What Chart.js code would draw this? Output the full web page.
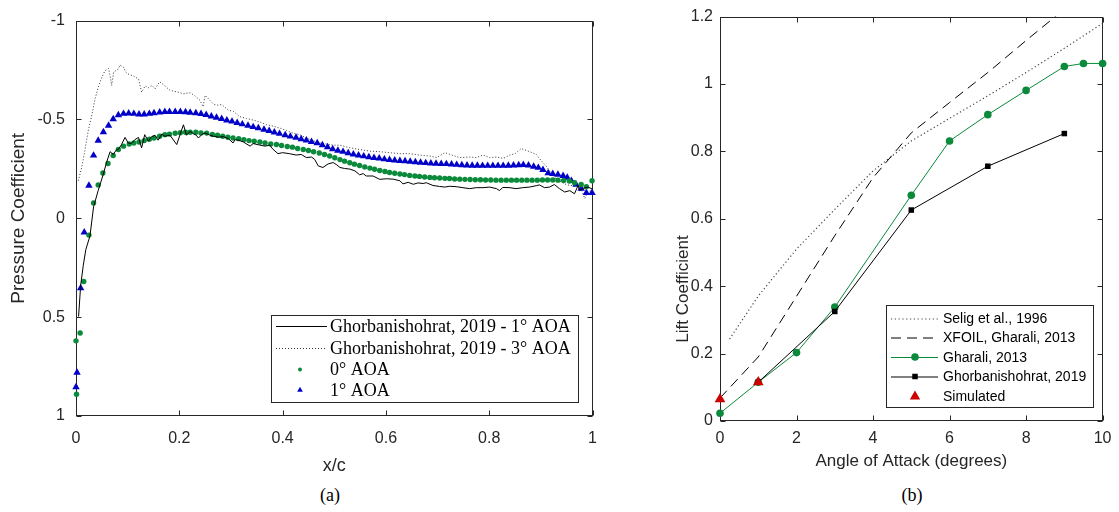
<!DOCTYPE html>
<html><head><meta charset="utf-8">
<script src="https://cdn.jsdelivr.net/npm/chart.js@4/dist/chart.umd.min.js"></script>
<style>
html,body{margin:0;padding:0;background:#fff;width:1119px;height:512px;overflow:hidden;position:relative}
#wa{position:absolute;left:0;top:0;width:610px;height:480px}
#wb{position:absolute;left:620px;top:0;width:499px;height:480px}
.cap{position:absolute;top:485px;width:100px;text-align:center;font-family:"Liberation Serif","Times New Roman",serif;font-size:18px;line-height:20px;color:#000}
</style></head>
<body>
<div id="wa"><canvas id="ca" width="610" height="480"></canvas></div>
<div id="wb"><canvas id="cb" width="499" height="480"></canvas></div>
<div class="cap" style="left:280px">(a)</div>
<div class="cap" style="left:862px">(b)</div>
<script>
// ---------- Panel (a): pressure coefficient ----------
const xTicksA = [0, 0.2, 0.4, 0.6, 0.8, 1];
const xTickLabelsA = ['0', '0.2', '0.4', '0.6', '0.8', '1'];
const yTicksA = [-1, -0.5, 0, 0.5, 1];
const yTickLabelsA = ['-1', '-0.5', '0', '0.5', '1'];

const labelsA = ['Ghorbanishohrat, 2019 - 1\u00b0 AOA', 'Ghorbanishohrat, 2019 - 3\u00b0 AOA', '0\u00b0 AOA', '1\u00b0 AOA'];

// Ghorbanishohrat 2019, 1 deg (solid)
const ref1X = [0.005,0.009,0.014,0.019,0.027,0.034,0.043,0.053,0.059,0.066,0.072,0.078,0.082,0.088,0.095,0.101,0.107,0.114,0.121,0.127,0.133,0.140,0.146,0.153,0.159,0.166,0.172,0.182,0.195,0.201,0.208,0.214,0.221,0.227,0.233,0.237,0.244,0.250,0.258,0.266,0.276,0.285,0.295,0.304,0.308,0.315,0.324,0.337,0.343,0.353,0.366,0.375,0.381,0.391,0.400,0.413,0.426,0.436,0.446,0.456,0.462,0.469,0.478,0.488,0.498,0.505,0.511,0.520,0.530,0.540,0.549,0.556,0.562,0.575,0.588,0.601,0.614,0.627,0.633,0.643,0.653,0.662,0.672,0.678,0.691,0.704,0.714,0.723,0.736,0.749,0.762,0.775,0.788,0.801,0.814,0.820,0.826,0.840,0.852,0.865,0.878,0.891,0.897,0.907,0.917,0.926,0.936,0.946,0.956,0.965,0.972,0.975,0.982,0.991,0.999];
const ref1Y = [0.497,0.340,0.240,0.158,0.090,-0.058,-0.141,-0.224,-0.282,-0.337,-0.323,-0.345,-0.348,-0.373,-0.409,-0.381,-0.378,-0.398,-0.409,-0.356,-0.423,-0.390,-0.412,-0.420,-0.395,-0.426,-0.415,-0.420,-0.373,-0.420,-0.473,-0.420,-0.440,-0.428,-0.420,-0.406,-0.425,-0.431,-0.422,-0.415,-0.410,-0.413,-0.403,-0.381,-0.398,-0.395,-0.386,-0.365,-0.378,-0.372,-0.365,-0.370,-0.350,-0.327,-0.332,-0.327,-0.320,-0.323,-0.307,-0.310,-0.298,-0.265,-0.257,-0.275,-0.282,-0.270,-0.257,-0.252,-0.249,-0.240,-0.220,-0.226,-0.214,-0.214,-0.197,-0.200,-0.198,-0.190,-0.174,-0.182,-0.172,-0.179,-0.176,-0.180,-0.166,-0.161,-0.158,-0.162,-0.160,-0.155,-0.150,-0.155,-0.155,-0.158,-0.150,-0.140,-0.156,-0.155,-0.150,-0.155,-0.158,-0.165,-0.169,-0.155,-0.158,-0.171,-0.150,-0.133,-0.140,-0.124,-0.166,-0.140,-0.152,-0.158,-0.149];

// Ghorbanishohrat 2019, 3 deg (dotted)
const ref3X = [0.0045,0.011,0.017,0.024,0.030,0.037,0.043,0.050,0.056,0.063,0.066,0.069,0.073,0.082,0.085,0.092,0.096,0.101,0.111,0.121,0.127,0.134,0.140,0.147,0.153,0.162,0.172,0.182,0.195,0.208,0.221,0.230,0.240,0.246,0.250,0.258,0.266,0.272,0.282,0.295,0.305,0.317,0.330,0.343,0.356,0.369,0.382,0.395,0.408,0.420,0.433,0.446,0.459,0.472,0.485,0.498,0.511,0.530,0.549,0.569,0.588,0.607,0.627,0.646,0.665,0.685,0.698,0.714,0.730,0.743,0.762,0.775,0.788,0.801,0.814,0.827,0.840,0.850,0.856,0.862,0.872,0.882,0.891,0.901,0.910,0.917,0.926,0.936,0.946,0.956,0.965,0.972,0.978,0.985,0.991,0.999];
const ref3Y = [-0.190,-0.257,-0.340,-0.448,-0.514,-0.605,-0.663,-0.713,-0.746,-0.758,-0.720,-0.672,-0.740,-0.755,-0.775,-0.765,-0.740,-0.730,-0.720,-0.705,-0.638,-0.670,-0.660,-0.672,-0.655,-0.691,-0.670,-0.647,-0.640,-0.630,-0.635,-0.620,-0.597,-0.564,-0.622,-0.600,-0.578,-0.572,-0.575,-0.547,-0.540,-0.514,-0.505,-0.497,-0.487,-0.473,-0.466,-0.456,-0.443,-0.431,-0.423,-0.406,-0.393,-0.381,-0.376,-0.370,-0.370,-0.357,-0.348,-0.340,-0.337,-0.332,-0.327,-0.327,-0.320,-0.315,-0.307,-0.332,-0.318,-0.307,-0.310,-0.307,-0.320,-0.307,-0.310,-0.303,-0.320,-0.327,-0.340,-0.353,-0.343,-0.333,-0.323,-0.290,-0.265,-0.240,-0.207,-0.190,-0.174,-0.166,-0.166,-0.174,-0.149,-0.100,-0.134,-0.141];

// Simulated 0 deg (green dots)
const sim0X = [0.000,0.001,0.008,0.015,0.025,0.034,0.043,0.052,0.062,0.072,0.082,0.092,0.103,0.112,0.122,0.132,0.142,0.151,0.162,0.172,0.181,0.192,0.202,0.212,0.221,0.232,0.242,0.253,0.264,0.274,0.284,0.294,0.304,0.315,0.325,0.335,0.345,0.356,0.366,0.377,0.388,0.398,0.409,0.419,0.429,0.440,0.450,0.460,0.471,0.481,0.491,0.501,0.511,0.520,0.530,0.539,0.549,0.559,0.569,0.578,0.588,0.598,0.607,0.617,0.627,0.636,0.646,0.656,0.665,0.675,0.685,0.694,0.704,0.714,0.723,0.733,0.743,0.753,0.763,0.773,0.783,0.793,0.803,0.813,0.823,0.833,0.843,0.853,0.863,0.873,0.883,0.893,0.903,0.913,0.923,0.933,0.944,0.955,0.965,0.978,0.988,0.999];
const sim0Y = [0.620,0.890,0.580,0.320,0.085,-0.078,-0.169,-0.229,-0.277,-0.318,-0.348,-0.365,-0.376,-0.381,-0.386,-0.393,-0.400,-0.406,-0.415,-0.423,-0.426,-0.430,-0.433,-0.435,-0.435,-0.435,-0.432,-0.431,-0.424,-0.420,-0.415,-0.410,-0.406,-0.403,-0.398,-0.393,-0.390,-0.386,-0.381,-0.376,-0.373,-0.368,-0.363,-0.360,-0.353,-0.348,-0.343,-0.337,-0.330,-0.323,-0.315,-0.306,-0.297,-0.289,-0.281,-0.274,-0.267,-0.260,-0.254,-0.248,-0.242,-0.237,-0.232,-0.228,-0.224,-0.221,-0.217,-0.214,-0.212,-0.209,-0.207,-0.205,-0.204,-0.202,-0.201,-0.199,-0.198,-0.197,-0.196,-0.195,-0.195,-0.194,-0.194,-0.193,-0.193,-0.193,-0.193,-0.193,-0.193,-0.193,-0.193,-0.193,-0.194,-0.194,-0.194,-0.193,-0.191,-0.189,-0.180,-0.171,-0.160,-0.190];

// Simulated 1 deg (blue triangles)
const sim1X = [0.000,0.002,0.009,0.016,0.025,0.034,0.043,0.053,0.063,0.072,0.082,0.092,0.102,0.112,0.122,0.132,0.142,0.151,0.162,0.172,0.181,0.192,0.202,0.212,0.221,0.232,0.242,0.252,0.262,0.272,0.282,0.292,0.302,0.312,0.322,0.333,0.343,0.353,0.364,0.374,0.384,0.394,0.405,0.415,0.426,0.436,0.446,0.456,0.467,0.477,0.487,0.497,0.507,0.517,0.527,0.537,0.547,0.557,0.567,0.577,0.587,0.597,0.607,0.617,0.627,0.637,0.647,0.657,0.667,0.677,0.687,0.697,0.707,0.717,0.727,0.737,0.747,0.757,0.767,0.777,0.787,0.797,0.807,0.817,0.827,0.837,0.847,0.857,0.866,0.876,0.886,0.895,0.904,0.914,0.923,0.933,0.943,0.951,0.959,0.968,0.978,0.988,0.999];
const sim1Y = [0.854,0.780,0.353,0.071,-0.166,-0.318,-0.393,-0.436,-0.469,-0.502,-0.522,-0.529,-0.531,-0.529,-0.526,-0.526,-0.529,-0.532,-0.536,-0.539,-0.539,-0.539,-0.539,-0.537,-0.535,-0.532,-0.528,-0.523,-0.516,-0.509,-0.503,-0.496,-0.490,-0.483,-0.476,-0.469,-0.462,-0.456,-0.449,-0.442,-0.435,-0.428,-0.421,-0.414,-0.408,-0.401,-0.394,-0.387,-0.380,-0.370,-0.360,-0.350,-0.343,-0.337,-0.330,-0.324,-0.319,-0.314,-0.310,-0.306,-0.303,-0.299,-0.296,-0.293,-0.291,-0.289,-0.287,-0.284,-0.282,-0.280,-0.278,-0.277,-0.276,-0.275,-0.273,-0.271,-0.269,-0.268,-0.267,-0.267,-0.266,-0.266,-0.266,-0.266,-0.266,-0.267,-0.268,-0.269,-0.270,-0.268,-0.262,-0.256,-0.245,-0.229,-0.225,-0.221,-0.215,-0.206,-0.190,-0.171,-0.150,-0.129,-0.129];

// ---------- Panel (b): lift coefficient ----------
const xTicksB = [0, 2, 4, 6, 8, 10];
const xTickLabelsB = ['0', '2', '4', '6', '8', '10'];
const yTicksB = [0, 0.2, 0.4, 0.6, 0.8, 1, 1.2];
const yTickLabelsB = ['0', '0.2', '0.4', '0.6', '0.8', '1', '1.2'];

const labelsB = ['Selig et al., 1996', 'XFOIL, Gharali, 2013', 'Gharali, 2013', 'Ghorbanishohrat, 2019', 'Simulated'];

const seligX = [0.25, 1, 2, 3, 4, 5, 6, 7, 8, 9, 10];
const seligY = [0.243, 0.371, 0.510, 0.628, 0.742, 0.831, 0.898, 0.965, 1.034, 1.106, 1.180];
const xfoilX = [0, 1, 2, 3, 4, 5, 6, 7, 8, 9];
const xfoilY = [0.068, 0.190, 0.370, 0.550, 0.722, 0.855, 0.945, 1.034, 1.129, 1.222];
const gharaliX = [0, 1, 2, 3, 5, 6, 7, 8, 9, 9.5, 10];
const gharaliY = [0.023, 0.115, 0.203, 0.338, 0.670, 0.831, 0.909, 0.981, 1.052, 1.061, 1.061];
const ghorbX = [1, 3, 5, 7, 9];
const ghorbY = [0.115, 0.325, 0.626, 0.756, 0.853];
const simX = [0, 1];
const simY = [0.065, 0.115];

// ---------- helpers ----------
const pts = (xs, ys) => xs.map((x, i) => ({x: x, y: ys[i]}));
const AXC = '#262626';
const GREEN = '#0a8a3a';
const BLUE = '#0000c8';
const RED = '#cc0000';
const SANS = '"Liberation Sans", Arial, Helvetica, sans-serif';
const SERIF = '"Liberation Serif", "Times New Roman", serif';
Chart.defaults.font.family = SANS;
Chart.defaults.color = AXC;

function fixTicks(vals) {
  return function(scale) { scale.ticks = vals.map(v => ({value: v})); };
}
function labelFrom(vals, labs) {
  return function(v) { const i = vals.findIndex(t => Math.abs(t - v) < 1e-9); return i >= 0 ? labs[i] : ''; };
}

function drawMarker(ctx, style, x, y, r, color) {
  ctx.save();
  ctx.fillStyle = color;
  ctx.beginPath();
  if (style === 'circle') {
    ctx.arc(x, y, r, 0, Math.PI * 2);
  } else if (style === 'triangle') {
    ctx.moveTo(x, y - r);
    ctx.lineTo(x + r * Math.sqrt(3) / 2, y + r / 2);
    ctx.lineTo(x - r * Math.sqrt(3) / 2, y + r / 2);
    ctx.closePath();
  } else if (style === 'rect') {
    const s = r * Math.SQRT1_2;
    ctx.rect(x - s, y - s, 2 * s, 2 * s);
  }
  ctx.fill();
  ctx.restore();
}

// MATLAB-like box with inward ticks
const boxPlugin = {
  id: 'boxPlugin',
  beforeDatasetsDraw(chart) {
    const {ctx, chartArea: a, scales} = chart;
    const xs = scales.x, ys = scales.y;
    const L = 5;
    ctx.save();
    ctx.strokeStyle = AXC;
    ctx.lineWidth = 1;
    const l = Math.round(a.left) + 0.5, r = Math.round(a.right) - 0.5, t = Math.round(a.top) + 0.5, b = Math.round(a.bottom) - 0.5;
    ctx.strokeRect(l, t, r - l, b - t);
    ctx.beginPath();
    xs.ticks.forEach(tk => {
      const px = Math.round(xs.getPixelForValue(tk.value)) + 0.5;
      ctx.moveTo(px, b); ctx.lineTo(px, b - L);
      ctx.moveTo(px, t); ctx.lineTo(px, t + L);
    });
    ys.ticks.forEach(tk => {
      const py = Math.round(ys.getPixelForValue(tk.value)) + 0.5;
      ctx.moveTo(l, py); ctx.lineTo(l + L, py);
      ctx.moveTo(r, py); ctx.lineTo(r - L, py);
    });
    ctx.stroke();
    ctx.restore();
  }
};

// Vertical axis title placed at a given point (used where the label is off-centre)
const sideTitle = {
  id: 'sideTitle',
  afterDraw(chart, args, o) {
    if (!o || !o.text) return;
    const ctx = chart.ctx;
    ctx.save();
    ctx.translate(o.x, o.y);
    ctx.rotate(-Math.PI / 2);
    ctx.font = o.font;
    ctx.fillStyle = AXC;
    ctx.textAlign = 'center';
    ctx.textBaseline = 'middle';
    ctx.fillText(o.text, 0, 0);
    ctx.restore();
  }
};

// Boxed legend drawn inside the axes
const boxLegend = {
  id: 'boxLegend',
  afterDatasetsDraw(chart, args, o) {
    if (!o || !o.box) return;
    const ctx = chart.ctx;
    ctx.save();
    ctx.fillStyle = '#fff';
    ctx.fillRect(o.box[0], o.box[1], o.box[2] - o.box[0], o.box[3] - o.box[1]);
    ctx.strokeStyle = AXC;
    ctx.lineWidth = 1;
    ctx.strokeRect(o.box[0] + 0.5, o.box[1] + 0.5, o.box[2] - o.box[0] - 1, o.box[3] - o.box[1] - 1);
    chart.data.datasets.forEach((ds, i) => {
      const y = o.rows[i];
      if (ds.showLine) {
        ctx.save();
        ctx.strokeStyle = ds.borderColor;
        ctx.lineWidth = ds.borderWidth || 1;
        ctx.setLineDash(ds.borderDash || []);
        ctx.beginPath();
        ctx.moveTo(o.lineX[0], y + 0.5);
        ctx.lineTo(o.lineX[1], y + 0.5);
        ctx.stroke();
        ctx.restore();
      }
      if (ds.pointRadius > 0) {
        drawMarker(ctx, ds.pointStyle || 'circle', o.markX, y, o.markR[i] || ds.pointRadius, ds.pointBackgroundColor);
      }
      ctx.fillStyle = '#000';
      ctx.font = o.font;
      ctx.textBaseline = 'middle';
      ctx.textAlign = 'left';
      ctx.fillText(ds.label, o.textX, y + 1);
    });
    ctx.restore();
  }
};

// ---------- chart (a) ----------
new Chart(document.getElementById('ca'), {
  type: 'scatter',
  data: {
    datasets: [
      {label: labelsA[0], data: pts(ref1X, ref1Y), showLine: true, borderColor: '#000', borderWidth: 1, pointRadius: 0, tension: 0, order: 0},
      {label: labelsA[1], data: pts(ref3X, ref3Y), showLine: true, borderColor: '#333', borderWidth: 1, borderDash: [1, 2], pointRadius: 0, tension: 0, order: 3},
      {label: labelsA[2], data: pts(sim0X, sim0Y), showLine: false, pointStyle: 'circle', pointRadius: 2.7, pointBackgroundColor: GREEN, pointBorderWidth: 0, clip: false, order: 1},
      {label: labelsA[3], data: pts(sim1X, sim1Y), showLine: false, pointStyle: 'triangle', pointRadius: 4.3, pointBackgroundColor: BLUE, pointBorderWidth: 0, clip: false, order: 2}
    ]
  },
  options: {
    responsive: false,
    animation: false,
    events: [],
    layout: {padding: {top: 14, right: 17, left: 0, bottom: 0}},
    plugins: {
      legend: {display: false},
      tooltip: {enabled: false},
      boxLegend: {box: [271, 315, 579, 403], rows: [326, 348, 369.5, 390], lineX: [276, 327], markX: 300, markR: [0, 0, 2, 3.3], textX: 330, font: '18px ' + SERIF}
    },
    scales: {
      x: {
        type: 'linear', min: 0, max: 1,
        afterBuildTicks: fixTicks(xTicksA),
        afterFit: s => { s.height = 64; },
        grid: {display: false, drawTicks: false, tickLength: 0},
        border: {display: false},
        ticks: {padding: 13, maxRotation: 0, autoSkip: false, font: {size: 16}, color: AXC, callback: labelFrom(xTicksA, xTickLabelsA)},
        title: {display: true, text: 'x/c', font: {size: 18}, color: AXC, padding: {top: 0, bottom: 3}}
      },
      y: {
        type: 'linear', min: -1, max: 1, reverse: true,
        afterBuildTicks: fixTicks(yTicksA),
        afterFit: s => { s.width = 76; },
        grid: {display: false, drawTicks: false, tickLength: 0},
        border: {display: false},
        ticks: {padding: 11, autoSkip: false, font: {size: 16}, color: AXC, callback: labelFrom(yTicksA, yTickLabelsA)},
        title: {display: true, text: 'Pressure Coefficient', font: {size: 19}, color: AXC, padding: {top: 7, bottom: 0}}
      }
    }
  },
  plugins: [boxPlugin, boxLegend]
});

// ---------- chart (b) ----------
new Chart(document.getElementById('cb'), {
  type: 'scatter',
  data: {
    datasets: [
      {label: labelsB[0], data: pts(seligX, seligY), showLine: true, borderColor: '#444', borderWidth: 1.2, borderDash: [1.2, 2.6], pointRadius: 0, tension: 0, order: 4},
      {label: labelsB[1], data: pts(xfoilX, xfoilY), showLine: true, borderColor: '#000', borderWidth: 1, borderDash: [10, 6], pointRadius: 0, tension: 0, clip: 0, order: 3},
      {label: labelsB[2], data: pts(gharaliX, gharaliY), showLine: true, borderColor: GREEN, borderWidth: 1, pointStyle: 'circle', pointRadius: 3.8, pointBackgroundColor: GREEN, pointBorderWidth: 0, tension: 0, clip: false, order: 2},
      {label: labelsB[3], data: pts(ghorbX, ghorbY), showLine: true, borderColor: '#000', borderWidth: 1, pointStyle: 'rect', pointRadius: 3.9, pointBackgroundColor: '#000', pointBorderWidth: 0, tension: 0, clip: false, order: 1},
      {label: labelsB[4], data: pts(simX, simY), showLine: false, pointStyle: 'triangle', pointRadius: 6.2, pointBackgroundColor: RED, pointBorderWidth: 0, clip: false, order: 0}
    ]
  },
  options: {
    responsive: false,
    animation: false,
    events: [],
    layout: {padding: {top: 13, right: 12, left: 0, bottom: 0}},
    plugins: {
      legend: {display: false},
      tooltip: {enabled: false},
      boxLegend: {box: [266, 305, 474, 408], rows: [318.5, 337.5, 357, 376.5, 396.5], lineX: [271, 318], markX: 295, markR: [0, 0, 3.8, 3.9, 6], textX: 323, font: '14px ' + SANS},
      sideTitle: {text: 'Lift Coefficient', x: 63, y: 289, font: '17px ' + SANS}
    },
    scales: {
      x: {
        type: 'linear', min: 0, max: 10,
        afterBuildTicks: fixTicks(xTicksB),
        afterFit: s => { s.height = 59; },
        grid: {display: false, drawTicks: false, tickLength: 0},
        border: {display: false},
        ticks: {padding: 7.5, maxRotation: 0, autoSkip: false, font: {size: 16}, color: AXC, callback: labelFrom(xTicksB, xTickLabelsB)},
        title: {display: true, text: 'Angle of Attack (degrees)', font: {size: 17}, color: AXC, padding: {top: 0, bottom: 8}}
      },
      y: {
        type: 'linear', min: 0, max: 1.2,
        afterBuildTicks: fixTicks(yTicksB),
        afterFit: s => { s.width = 100; },
        grid: {display: false, drawTicks: false, tickLength: 0},
        border: {display: false},
        ticks: {padding: 7, autoSkip: false, font: {size: 16}, color: AXC, callback: labelFrom(yTicksB, yTickLabelsB)},
        title: {display: false}
      }
    }
  },
  plugins: [boxPlugin, boxLegend, sideTitle]
});
</script>
</body></html>
